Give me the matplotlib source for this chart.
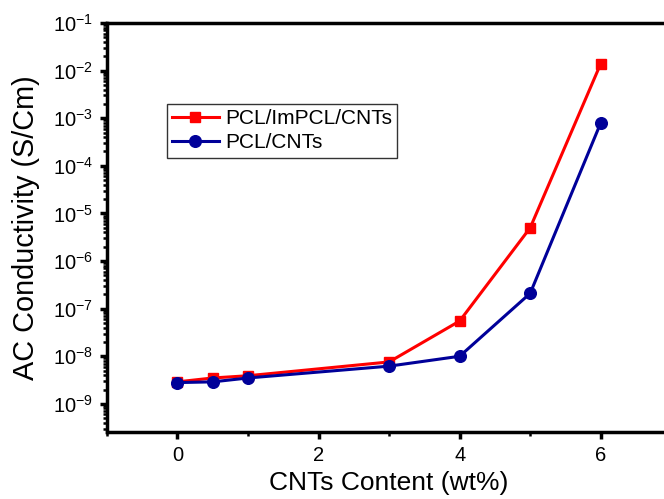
import numpy as np
import matplotlib
matplotlib.use('Agg')
import matplotlib.pyplot as plt
from matplotlib.ticker import LogLocator, MultipleLocator

plt.rcParams['font.family'] = ['Liberation Sans', 'DejaVu Sans']
plt.rcParams['mathtext.fontset'] = 'custom'
plt.rcParams['mathtext.rm'] = 'Liberation Sans'
plt.rcParams['mathtext.it'] = 'Liberation Sans'

content = [0, 0.5, 1, 3, 4, 5, 6]
imcpl = [2.9e-9, 3.5e-9, 3.9e-9, 7.6e-9, 5.5e-8, 5.0e-6, 1.4e-2]
pcl = [2.8e-9, 2.9e-9, 3.5e-9, 6.2e-9, 1.0e-8, 2.1e-7, 8.0e-4]

fig = plt.figure(figsize=(6.64, 4.99), dpi=100)
ax = fig.add_axes([0.161, 0.134, 0.85, 0.82])

ax.plot(content, imcpl, '-s', color='#ff0000', lw=2.2, ms=7.2, label='PCL/ImPCL/CNTs')
ax.plot(content, pcl, '-o', color='#000099', lw=2.2, ms=8.4, label='PCL/CNTs')

ax.set_yscale('log')
ax.set_xlim(-1, 7)
ax.set_ylim(2.55e-10, 0.1)
ax.xaxis.set_major_locator(MultipleLocator(2))
ax.xaxis.set_minor_locator(MultipleLocator(1))
ax.yaxis.set_major_locator(LogLocator(base=10, numticks=20))
ax.yaxis.set_minor_locator(LogLocator(base=10, subs=np.arange(2, 10), numticks=20))

for s in ax.spines.values():
    s.set_linewidth(2.5)
ax.tick_params(which='major', direction='out', length=5, width=2.5, labelsize=14.5, pad=5)
ax.tick_params(which='minor', direction='out', length=3, width=1.8)

ax.set_xlabel('CNTs Content (wt%)', fontsize=19, labelpad=4.5)
ax.set_ylabel('AC Conductivity (S/Cm)', fontsize=20.8, labelpad=9)

leg = ax.legend(loc='upper left', bbox_to_anchor=(0.106, 0.802), fontsize=15,
                frameon=True, fancybox=False, edgecolor='black', borderpad=0.25,
                labelspacing=0.25, handlelength=2.25, handletextpad=0.3,
                borderaxespad=0)
leg.get_frame().set_linewidth(1.0)

fig.savefig('out.png', dpi=100)
